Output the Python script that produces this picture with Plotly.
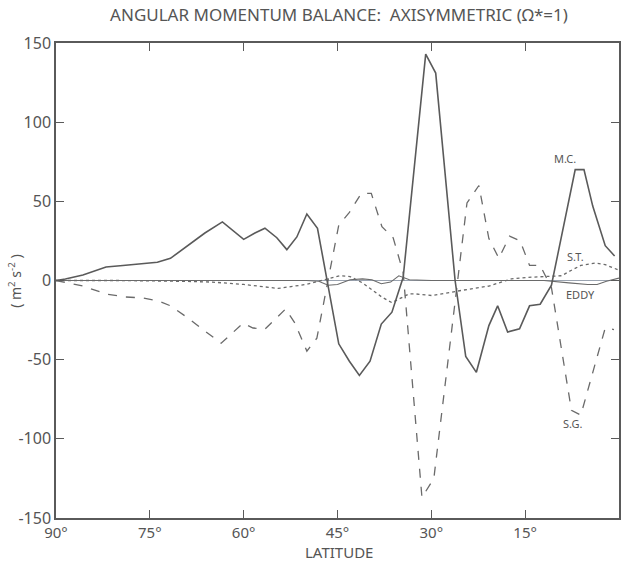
import plotly.graph_objects as go

# ---- data (latitude in degrees, value in m^2 s^-2) ----
mc_lat = [90, 88.5, 85.7, 82, 79.3, 76.2, 73.8, 71.7, 68.9, 66.2, 63.4, 60, 58.2, 56.6, 54.7, 53.1,
          51.5, 49.9, 48.2, 44.8, 43.1, 41.5, 39.8, 38, 36.3, 34.5, 30.9, 29.3, 26.2, 24.5, 22.8,
          20.8, 19.4, 17.8, 15.9, 14.3, 12.6, 10.8, 7.0, 5.6, 4.2, 2.2, 0.7]
mc_val = [0, 1, 3.5, 8.5, 9.5, 10.5, 11.5, 14, 22, 30, 37, 26, 30, 33, 27, 19.5,
          27.5, 42, 33, -40, -51, -60, -51, -27.5, -20, 2, 143, 131, 0, -48, -58,
          -28.5, -16, -32.5, -30.5, -16, -15, -3, 70, 70, 47, 22, 15.5]

sg_lat = [90, 85.7, 82, 78.9, 76.2, 73.6, 71.7, 68.9, 66.5, 63.6, 60.1, 58.5, 56.6, 53.3, 51.8,
          49.9, 48.3, 44.8, 43.1, 41.2, 39.6, 37.9, 36.1, 34.5, 31.5, 29.6, 24.3, 22.4, 20.8,
          19.2, 17.5, 15.8, 14.3, 12.6, 10.8, 7.6, 6.1, 2.2, 0.8]
sg_val = [0, -3.5, -8.5, -10.4, -11, -13, -16, -23.7, -31, -39.6, -27, -30, -30.7, -18, -27,
          -44.6, -36.4, 35, 43, 55, 55, 34, 27, 5, -137, -125, 49, 60, 26.5,
          14, 28, 25, 9.5, 9.5, -4.5, -82, -85, -30, -31]

st_lat = [90, 80, 70, 65, 60, 54.5, 50, 47, 44.7, 43, 41, 37.9, 36.3, 33.6, 32.4, 29.9, 27.2,
          24.8, 20.8, 18.8, 17.2, 14.5, 9.2, 7.6, 6.1, 3.8, 2.2, 0]
st_val = [0, 0, -0.5, -1, -2.5, -5, -2.5, 0.5, 3, 2.5, -1.5, -10.5, -14, -8.5, -8.5, -9.5, -7.5,
          -6, -3.5, -1, 1, 2, 3, 6.5, 9.5, 11, 10, 6.5]

ed_lat = [90, 60, 50, 48, 46.5, 45, 43, 41, 39.5, 38, 36.5, 35.2, 33.5, 30, 20, 12, 8, 5, 3.5,
          2, 0]
ed_val = [0, 0, 0, -0.5, -3, -2.5, 0.5, 1, 0.5, -2, -1, 3, 0.5, 0, 0, 0, -1.5, -2.5, -2.5,
          -0.5, 1.5]

x_ticks = [90, 75, 60, 45, 30, 15, 0]
x_labels = ["90°", "75°", "60°", "45°", "30°", "15°", "0°"]
y_ticks = [-150, -100, -50, 0, 50, 100, 150]
y_labels = ["-150", "-100", "-50", "0", "50", "100", "150"]

LINE = "#5a5a5a"
TEXT = "#555555"
FONT = "Noto Sans"

fig = go.Figure()
fig.add_trace(go.Scatter(x=ed_lat, y=ed_val, mode="lines", line=dict(color="#6a6a6a", width=1.1),
                         name="EDDY"))
fig.add_trace(go.Scatter(x=st_lat, y=st_val, mode="lines", line=dict(color="#6a6a6a", width=1.3, dash="dot"),
                         name="S.T."))
fig.add_trace(go.Scatter(x=sg_lat, y=sg_val, mode="lines", line=dict(color="#6a6a6a", width=1.3, dash="dash"),
                         name="S.G."))
fig.add_trace(go.Scatter(x=mc_lat, y=mc_val, mode="lines", line=dict(color=LINE, width=1.6),
                         name="M.C."))

labels = [("M.C.", 8.6, 77), ("S.T.", 6.9, 15), ("EDDY", 6.2, -9), ("S.G.", 7.5, -90)]
for txt, lx, ly in labels:
    fig.add_annotation(x=lx, y=ly, xref="x", yref="y", text=txt, showarrow=False,
                       font=dict(family=FONT, size=11, color=TEXT))

fig.add_annotation(x=0.503, y=-0.072, xref="paper", yref="paper", text="LATITUDE",
                   showarrow=False, yanchor="middle", font=dict(family=FONT, size=15, color=TEXT))
fig.add_annotation(x=-0.074, y=0.5, xref="paper", yref="paper", xanchor="center",
                   text="( m<sup>2</sup> s<sup>-2</sup> )", textangle=-90,
                   showarrow=False, font=dict(family=FONT, size=14, color=TEXT))

fig.update_layout(
    width=622, height=563,
    margin=dict(l=56, r=1, t=43, b=45),
    paper_bgcolor="white", plot_bgcolor="white",
    showlegend=False,
    title=dict(text="ANGULAR MOMENTUM BALANCE:  AXISYMMETRIC (Ω*=1)", x=0.545, xanchor="center",
               y=0.973, yanchor="middle", font=dict(family=FONT, size=17, color=TEXT)),
    font=dict(family=FONT, color=TEXT),
)
fig.update_xaxes(range=[90, 0], tickvals=x_ticks, ticktext=x_labels, ticks="inside", ticklen=8,
                 tickcolor=LINE, showline=True, linecolor=LINE, linewidth=1.5, mirror="allticks",
                 showgrid=False, zeroline=False, tickfont=dict(family=FONT, size=15, color=TEXT))
fig.update_yaxes(range=[-150, 150], tickvals=y_ticks, ticktext=y_labels, ticks="inside", ticklen=8,
                 tickcolor=LINE, showline=True, linecolor=LINE, linewidth=1.5, mirror="allticks",
                 showgrid=False, zeroline=True, zerolinecolor="#9aa3b0", zerolinewidth=1,
                 tickfont=dict(family=FONT, size=16, color=TEXT))

fig.write_html("out.html")
